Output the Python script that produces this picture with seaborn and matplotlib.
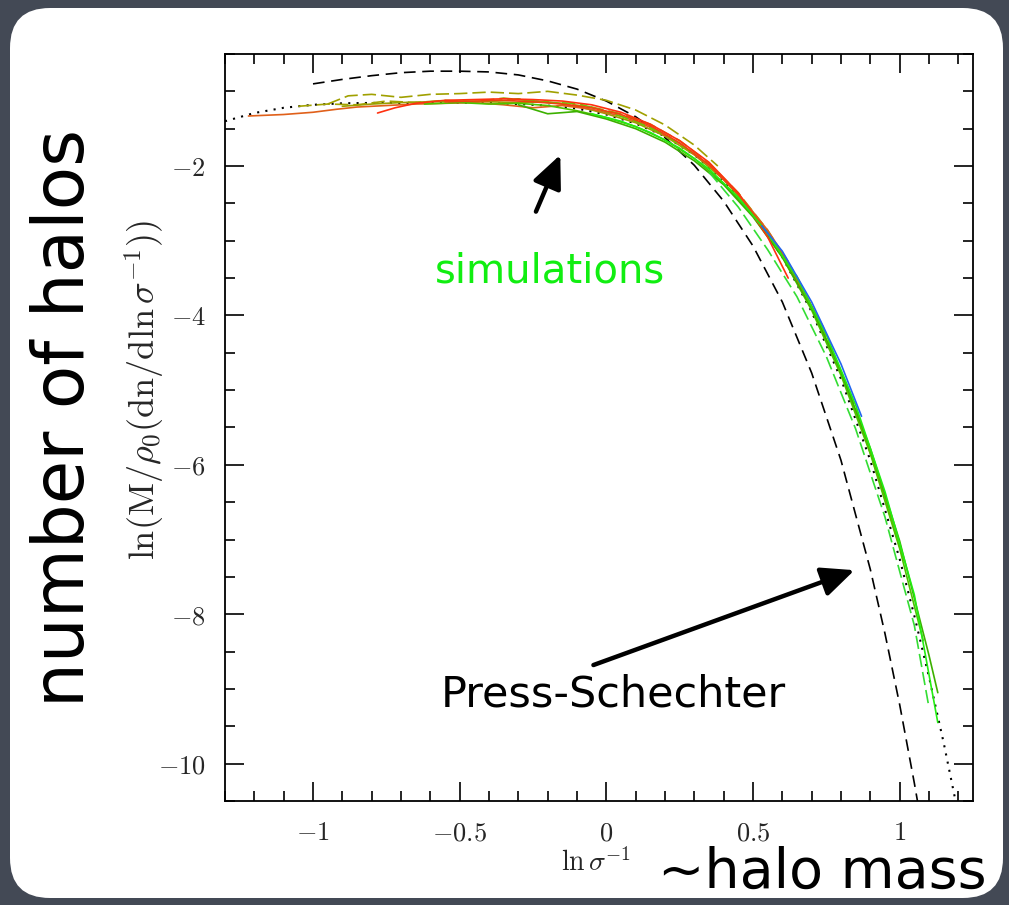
import matplotlib
matplotlib.use("Agg")
import matplotlib.pyplot as plt
from matplotlib.patches import FancyBboxPatch
from matplotlib.transforms import IdentityTransform
from matplotlib.ticker import MultipleLocator, FuncFormatter
import seaborn as sns
import pandas as pd

# ---- values ----
# Press-Schechter (black dashed)
ps_x = [-1.0, -0.9, -0.8, -0.7, -0.6, -0.5, -0.4, -0.3, -0.2, -0.1, 0.0, 0.1, 0.2,
        0.3, 0.4, 0.5, 0.6, 0.7, 0.8, 0.9, 0.95, 1.0, 1.05, 1.07]
ps_y = [-0.90, -0.84, -0.79, -0.75, -0.73, -0.73, -0.74, -0.78, -0.86, -0.97, -1.13, -1.34,
        -1.62, -1.99, -2.47, -3.07, -3.82, -4.77, -5.94, -7.40, -8.26, -9.21, -10.26, -10.71]

# fit (black dotted)
fit_x = [-1.3, -1.2, -1.1, -1.0, -0.9, -0.8, -0.6, -0.4, -0.3, -0.2, -0.1, 0.0, 0.1, 0.2,
         0.3, 0.4, 0.5, 0.6, 0.7, 0.8, 0.9, 1.0, 1.05, 1.1, 1.15, 1.19, 1.21]
fit_y = [-1.40, -1.29, -1.22, -1.18, -1.16, -1.155, -1.155, -1.155, -1.17, -1.19, -1.23, -1.31,
         -1.43, -1.60, -1.85, -2.19, -2.64, -3.22, -3.95, -4.85, -5.94, -7.26, -8.02, -8.84,
         -9.72, -10.49, -10.9]

# simulation runs
orange_x = [-1.22, -1.1, -1.0, -0.92, -0.85, -0.75, -0.65, -0.55, -0.45, -0.35, -0.25, -0.15,
            -0.05, 0.05, 0.15, 0.25, 0.35, 0.45, 0.55, 0.62]
orange_y = [-1.33, -1.31, -1.28, -1.24, -1.21, -1.19, -1.17, -1.16, -1.15, -1.18, -1.22, -1.19,
            -1.24, -1.33, -1.48, -1.70, -1.99, -2.37, -2.86, -3.28]

red_x = [-0.78, -0.72, -0.65, -0.55, -0.45, -0.35, -0.25, -0.15, -0.05, 0.05, 0.15, 0.25,
         0.35, 0.45, 0.55, 0.62]
red_y = [-1.29, -1.22, -1.16, -1.12, -1.11, -1.10, -1.11, -1.13, -1.18, -1.28, -1.44, -1.66,
         -1.95, -2.36, -2.95, -3.50]

red2_x = [-0.55, -0.45, -0.35, -0.25, -0.15, -0.05, 0.05, 0.15, 0.25, 0.35, 0.45, 0.55, 0.62, 0.74]
red2_y = [-1.14, -1.13, -1.12, -1.14, -1.17, -1.22, -1.31, -1.46, -1.69, -1.98, -2.38, -2.90,
          -3.30, -4.16]

olive_d_x = [-0.95, -0.88, -0.8, -0.7, -0.6, -0.5, -0.4, -0.3, -0.2, -0.1, 0.0, 0.1, 0.2, 0.3, 0.38]
olive_d_y = [-1.17, -1.06, -1.04, -1.08, -1.04, -1.03, -1.01, -1.03, -1.00, -1.05, -1.12, -1.25,
             -1.45, -1.72, -2.00]

olive_d2_x = [-1.05, -0.95, -0.85, -0.75, -0.65, -0.55, -0.45, -0.35, -0.25, -0.15, -0.05, 0.05,
              0.15, 0.25, 0.35, 0.45, 0.55, 0.65, 0.75, 0.85, 0.95, 1.02]
olive_d2_y = [-1.20, -1.17, -1.18, -1.13, -1.15, -1.12, -1.14, -1.09, -1.13, -1.16, -1.21, -1.30,
              -1.44, -1.66, -1.96, -2.36, -2.86, -3.48, -4.28, -5.24, -6.45, -7.35]

olive_x = [-0.9, -0.8, -0.7, -0.6, -0.5, -0.4, -0.3, -0.2, -0.1, 0.0, 0.1, 0.2, 0.3, 0.4,
           0.5, 0.6, 0.7, 0.8, 0.9, 1.0]
olive_y = [-1.20, -1.17, -1.15, -1.14, -1.13, -1.14, -1.15, -1.14, -1.20, -1.30, -1.42, -1.60,
           -1.85, -2.18, -2.62, -3.18, -3.88, -4.76, -5.82, -7.10]

green_x = [-0.62, -0.5, -0.4, -0.3, -0.2, -0.1, 0.0, 0.1, 0.2, 0.3, 0.4, 0.5, 0.6, 0.7,
           0.8, 0.9, 1.0, 1.08]
green_y = [-1.17, -1.15, -1.17, -1.16, -1.19, -1.26, -1.35, -1.47, -1.65, -1.90, -2.23, -2.66,
           -3.22, -3.93, -4.80, -5.85, -7.12, -8.35]

green2_x = [-0.3, -0.2, -0.1, 0.0, 0.1, 0.2, 0.3, 0.4, 0.5, 0.6, 0.7, 0.8, 0.9, 1.0, 1.1, 1.13]
green2_y = [-1.18, -1.30, -1.27, -1.37, -1.50, -1.68, -1.93, -2.25, -2.68, -3.22, -3.90, -4.75,
            -5.78, -7.02, -8.55, -9.05]

green_d_x = [-0.4, -0.3, -0.2, -0.1, 0.0, 0.1, 0.2, 0.3]
green_d_y = [-1.13, -1.10, -1.15, -1.16, -1.27, -1.40, -1.58, -1.84]

lime_x = [-0.05, 0.05, 0.15, 0.25, 0.35, 0.45, 0.55, 0.65, 0.75, 0.85, 0.95, 1.05, 1.13]
lime_y = [-1.30, -1.40, -1.55, -1.76, -2.04, -2.42, -2.90, -3.50, -4.26, -5.20, -6.36, -7.74, -9.45]

lime_d_x = [0.35, 0.45, 0.55, 0.65, 0.75, 0.85, 0.95, 1.05, 1.1]
lime_d_y = [-2.08, -2.55, -3.12, -3.75, -4.55, -5.52, -6.70, -8.15, -9.25]

blue_x = [0.53, 0.6, 0.7, 0.8, 0.87]
blue_y = [-2.80, -3.14, -3.82, -4.65, -5.35]

runs = [
    (olive_d2_x, olive_d2_y, "#a3a300", (0, (8, 3))),
    (olive_x, olive_y, "#9aa000", "-"),
    (orange_x, orange_y, "#e0601a", "-"),
    (green_x, green_y, "#4cc400", "-"),
    (green2_x, green2_y, "#3cb000", "-"),
    (green_d_x, green_d_y, "#66cc00", (0, (8, 3))),
    (red_x, red_y, "#ff3010", "-"),
    (red2_x, red2_y, "#f04010", "-"),
    (olive_d_x, olive_d_y, "#a0a000", (0, (8, 3))),
    (lime_x, lime_y, "#22ee11", "-"),
    (lime_d_x, lime_d_y, "#33dd33", (0, (8, 3))),
    (blue_x, blue_y, "#2266ee", "-"),
]

sns.set_style("ticks")
plt.rcParams["mathtext.fontset"] = "cm"

fig = plt.figure(figsize=(10.09, 9.05), dpi=100)
fig.patch.set_facecolor("#434955")
panel = FancyBboxPatch((10, 7), 993, 890, boxstyle="round,pad=0,rounding_size=40",
                       transform=IdentityTransform(), fc="white", ec="none", zorder=-10)
fig.add_artist(panel)

ax = fig.add_axes([225 / 1009, 104 / 905, 748 / 1009, 747 / 905])

sns.lineplot(x=ps_x, y=ps_y, ax=ax, color="black", lw=1.2, linestyle=(0, (7, 4)),
             estimator=None, sort=False)
sns.lineplot(x=fit_x, y=fit_y, ax=ax, color="black", lw=1.5, linestyle=(0, (1, 3)),
             estimator=None, sort=False)
for xs, ys, c, ls in runs:
    sns.lineplot(x=xs, y=ys, ax=ax, color=c, lw=1.2, linestyle=ls, estimator=None, sort=False)

ax.set_xlim(-1.3, 1.25)
ax.set_ylim(-10.5, -0.5)
ax.xaxis.set_major_locator(MultipleLocator(0.5))
ax.xaxis.set_minor_locator(MultipleLocator(0.1))
ax.yaxis.set_major_locator(MultipleLocator(2))
ax.yaxis.set_minor_locator(MultipleLocator(0.5))
fmt = FuncFormatter(lambda v, p: f"${v:g}$")
ax.xaxis.set_major_formatter(fmt)
ax.yaxis.set_major_formatter(fmt)
ax.tick_params(which="both", direction="in", top=True, right=True, width=1.2, color="black")
ax.tick_params(which="major", length=14, labelsize=19, pad=14)
ax.tick_params(which="minor", length=7)
for s in ax.spines.values():
    s.set_linewidth(1.3)
    s.set_color("black")

ax.set_ylabel(r"$\ln(\mathrm{M}/\rho_0(\mathrm{dn}/\mathrm{d}\ln\sigma^{-1}))$", fontsize=26)
ax.yaxis.set_label_coords(-0.078, 0.55)
ax.set_xlabel(r"$\ln\sigma^{-1}$", fontsize=20)
ax.xaxis.set_label_coords(0.496, -0.064)

ax.text(-0.191, -3.56, "simulations", color="#11ee11", fontsize=29, ha="center", va="baseline")
ax.text(0.024, -9.23, "Press-Schechter", color="black", fontsize=31, ha="center", va="baseline")
arrow = dict(arrowstyle="-|>,head_length=1.0,head_width=0.45", lw=3.2, color="black",
             mutation_scale=20, shrinkA=0, shrinkB=0)
ax.annotate("", xy=(-0.157, -1.85), xytext=(-0.24, -2.61), arrowprops=arrow)
ax.annotate("", xy=(0.846, -7.41), xytext=(-0.044, -8.68), arrowprops=arrow)

fig.text(65 / 1009, 1 - 418 / 905, "number of halos", rotation=90, fontsize=51,
         ha="center", va="center", color="black")
fig.text(822 / 1009, 1 - 888 / 905, "~halo mass", fontsize=40, ha="center",
         va="baseline", color="black")

fig.savefig("out.png", dpi=100, facecolor=fig.get_facecolor())
